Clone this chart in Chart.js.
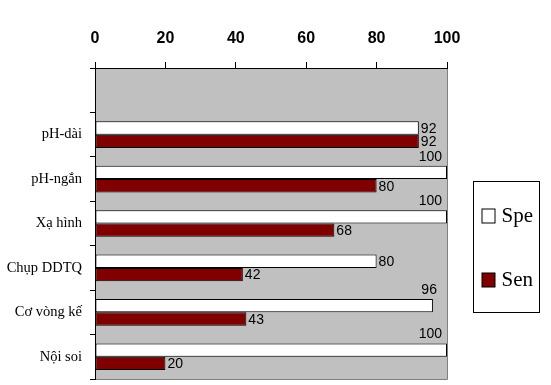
<!DOCTYPE html>
<html>
<head>
<meta charset="utf-8">
<script src="https://cdn.jsdelivr.net/npm/chart.js@4"></script>
<style>
  html, body { margin: 0; padding: 0; background: #fff; }
  #wrap { width: 551px; height: 385px; }
</style>
</head>
<body>
<div id="wrap"><canvas id="chart"></canvas></div>
<script>
// data
const categories = ["", "pH-dài", "pH-ngắn", "Xạ hình", "Chụp DDTQ", "Cơ vòng kế", "Nội soi"];
const speValues = [null, 92, 100, 100, 80, 96, 100];
const senValues = [null, 92, 80, 68, 42, 43, 20];
const xTicks = [0, 20, 40, 60, 80, 100];

// grey plot area with darker right/bottom edge
const plotBg = {
  id: "plotBg",
  beforeDraw(chart) {
    const { ctx, chartArea: a } = chart;
    ctx.save();
    ctx.fillStyle = "#c0c0c0";
    ctx.fillRect(a.left, a.top, a.right - a.left, a.bottom - a.top);
    ctx.strokeStyle = "#808080";
    ctx.lineWidth = 1;
    ctx.beginPath();
    ctx.moveTo(a.right + 0.5, a.top);
    ctx.lineTo(a.right + 0.5, a.bottom + 0.5);
    ctx.lineTo(a.left, a.bottom + 0.5);
    ctx.stroke();
    ctx.restore();
  },
};

// value labels at bar ends
const valueLabels = {
  id: "valueLabels",
  afterDatasetsDraw(chart) {
    const { ctx, chartArea: a } = chart;
    ctx.save();
    ctx.font = "14px 'Liberation Sans', Arial, sans-serif";
    ctx.fillStyle = "#000";
    chart.data.datasets.forEach((ds, i) => {
      chart.getDatasetMeta(i).data.forEach((bar, j) => {
        const v = ds.data[j];
        if (v == null) return;
        const txt = String(v);
        const w = ctx.measureText(txt).width;
        ctx.textBaseline = "middle";
        if (bar.x + 2 + w > a.right) {
          ctx.textAlign = "right";
          ctx.fillText(txt, Math.min(bar.x + 4, a.right - 5), bar.y - bar.height / 2 - 9);
        } else {
          ctx.textAlign = "left";
          ctx.fillText(txt, bar.x + 2, bar.y + 1);
        }
      });
    });
    ctx.restore();
  },
};

// boxed legend on the right
const boxLegend = {
  id: "boxLegend",
  afterDraw(chart) {
    const { ctx, chartArea: a } = chart;
    const x = a.right + 26.5, y = 181.5, w = 66, h = 131;
    ctx.save();
    ctx.fillStyle = "#fff";
    ctx.fillRect(x, y, w, h);
    ctx.strokeStyle = "#000";
    ctx.lineWidth = 1;
    ctx.strokeRect(x, y, w, h);
    ctx.font = "21px 'Liberation Serif', 'Times New Roman', serif";
    ctx.textBaseline = "middle";
    ctx.textAlign = "left";
    chart.data.datasets.forEach((ds, i) => {
      const cy = 216 + i * 64;
      ctx.fillStyle = ds.backgroundColor;
      ctx.fillRect(x + 8.5, cy - 7, 13, 14);
      ctx.strokeRect(x + 8.5, cy - 7, 13, 14);
      ctx.fillStyle = "#000";
      ctx.fillText(ds.label, x + 28, cy);
    });
    ctx.restore();
  },
};

new Chart(document.getElementById("chart"), {
  type: "bar",
  data: {
    labels: categories,
    datasets: [
      {
        label: "Spe",
        data: speValues,
        backgroundColor: "#ffffff",
        borderColor: "#000",
        borderWidth: 1,
        borderSkipped: false,
      },
      {
        label: "Sen",
        data: senValues,
        backgroundColor: "#800000",
        borderColor: "#000",
        borderWidth: 1,
        borderSkipped: false,
      },
    ],
  },
  options: {
    indexAxis: "y",
    responsive: true,
    maintainAspectRatio: false,
    animation: false,
    categoryPercentage: 0.6,
    barPercentage: 1.0,
    layout: { padding: { top: 0, right: 104, bottom: 6, left: 0 } },
    plugins: {
      legend: { display: false },
      tooltip: { enabled: false },
    },
    scales: {
      x: {
        position: "top",
        min: 0,
        max: 100,
        afterBuildTicks: (scale) => {
          scale.ticks = xTicks.map((v) => ({ value: v }));
        },
        afterFit: (scale) => {
          scale.height = 68;
        },
        ticks: {
          color: "#000",
          padding: 14,
          font: { family: "'Liberation Sans', Arial, sans-serif", size: 16, weight: "bold" },
        },
        grid: { drawOnChartArea: false, drawTicks: true, tickLength: 6, color: "#000" },
        border: { color: "#000", width: 1 },
      },
      y: {
        afterFit: (scale) => {
          scale.width = 95;
          scale.paddingTop = 0;
          scale.paddingBottom = 0;
        },
        ticks: {
          color: "#000",
          padding: 8,
          font: { family: "'Liberation Serif', 'Times New Roman', serif", size: 14.5 },
        },
        grid: { drawOnChartArea: false, drawTicks: true, tickLength: 5, color: "#000", offset: true },
        border: { color: "#000", width: 1 },
      },
    },
  },
  plugins: [plotBg, valueLabels, boxLegend],
});
</script>
</body>
</html>
